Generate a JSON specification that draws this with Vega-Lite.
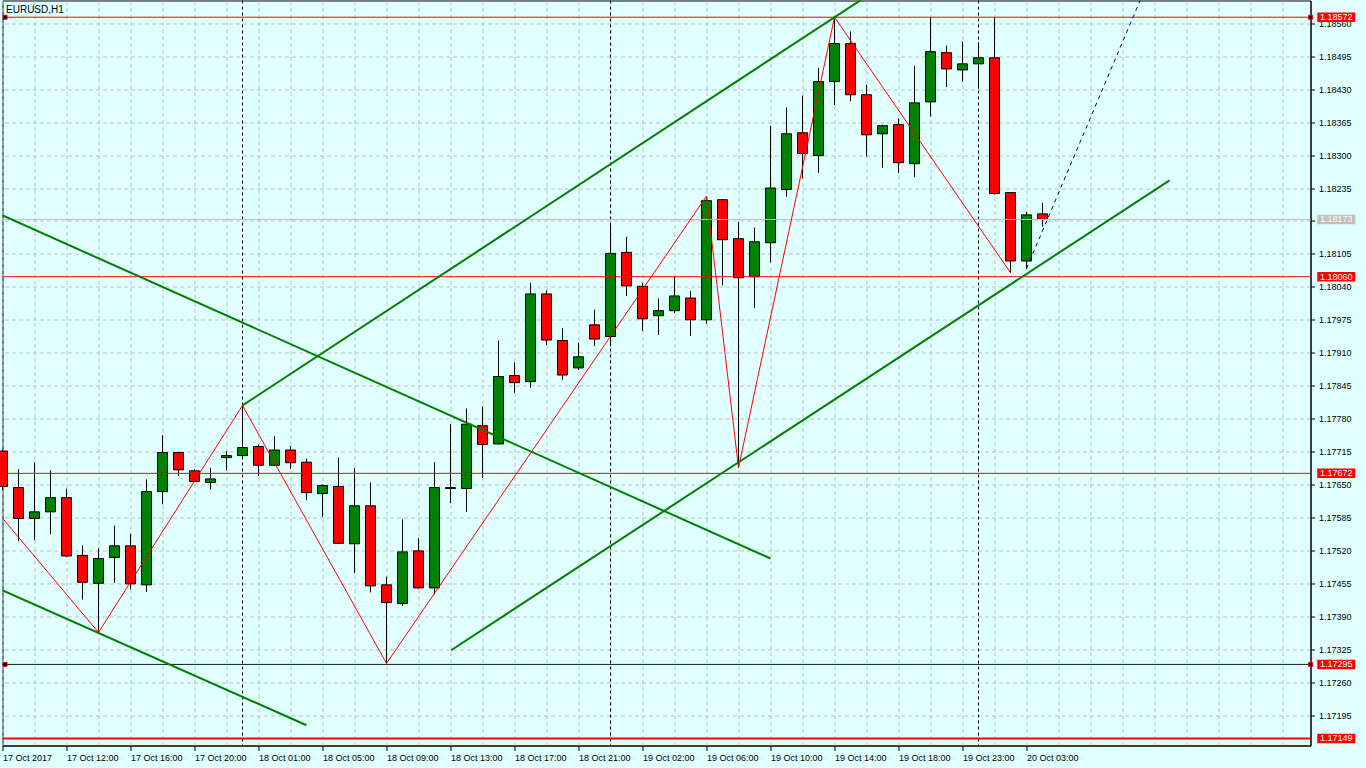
{
  "$schema": "https://vega.github.io/schema/vega-lite/v6.json",
  "width": 1308,
  "height": 745,
  "autosize": {"type": "none"},
  "padding": {"left": 2.5, "top": 0.5, "right": 55.5, "bottom": 22.5},
  "background": "#E0FFFF",
  "config": {"view": {"stroke": "#000000", "strokeWidth": 1, "fill": "#E0FFFF"}, "font": "Liberation Sans", "scale": {"continuousPadding": 0}, "axis": {"labelOverlap": false, "labelFlush": false, "labelBound": false}},
  "datasets": {
    "candles": [
      {"i":0,"open":1.17716,"high":1.17719,"low":1.17640,"close":1.17646},
      {"i":1,"open":1.17644,"high":1.17680,"low":1.17538,"close":1.17583},
      {"i":2,"open":1.17583,"high":1.17694,"low":1.17540,"close":1.17596},
      {"i":3,"open":1.17596,"high":1.17678,"low":1.17552,"close":1.17624},
      {"i":4,"open":1.17624,"high":1.17642,"low":1.17507,"close":1.17509},
      {"i":5,"open":1.17510,"high":1.17530,"low":1.17423,"close":1.17457},
      {"i":6,"open":1.17455,"high":1.17524,"low":1.17358,"close":1.17504},
      {"i":7,"open":1.17506,"high":1.17569,"low":1.17456,"close":1.17529},
      {"i":8,"open":1.17529,"high":1.17553,"low":1.17443,"close":1.17454},
      {"i":9,"open":1.17452,"high":1.17660,"low":1.17438,"close":1.17636},
      {"i":10,"open":1.17636,"high":1.17747,"low":1.17611,"close":1.17713},
      {"i":11,"open":1.17713,"high":1.17715,"low":1.17667,"close":1.17679},
      {"i":12,"open":1.17677,"high":1.17680,"low":1.17655,"close":1.17656},
      {"i":13,"open":1.17654,"high":1.17683,"low":1.17640,"close":1.17661},
      {"i":14,"open":1.17703,"high":1.17716,"low":1.17678,"close":1.17707},
      {"i":15,"open":1.17707,"high":1.17805,"low":1.17703,"close":1.17723},
      {"i":16,"open":1.17725,"high":1.17729,"low":1.17667,"close":1.17688},
      {"i":17,"open":1.17688,"high":1.17745,"low":1.17686,"close":1.17718},
      {"i":18,"open":1.17718,"high":1.17726,"low":1.17681,"close":1.17693},
      {"i":19,"open":1.17694,"high":1.17701,"low":1.17619,"close":1.17634},
      {"i":20,"open":1.17632,"high":1.17650,"low":1.17586,"close":1.17648},
      {"i":21,"open":1.17646,"high":1.17703,"low":1.17533,"close":1.17534},
      {"i":22,"open":1.17533,"high":1.17683,"low":1.17475,"close":1.17608},
      {"i":23,"open":1.17608,"high":1.17654,"low":1.17437,"close":1.17450},
      {"i":24,"open":1.17452,"high":1.17468,"low":1.17297,"close":1.17417},
      {"i":25,"open":1.17415,"high":1.17581,"low":1.17410,"close":1.17517},
      {"i":26,"open":1.17519,"high":1.17544,"low":1.17444,"close":1.17446},
      {"i":27,"open":1.17446,"high":1.17694,"low":1.17433,"close":1.17644},
      {"i":28,"open":1.17642,"high":1.17769,"low":1.17613,"close":1.17644},
      {"i":29,"open":1.17642,"high":1.17800,"low":1.17596,"close":1.17769},
      {"i":30,"open":1.17766,"high":1.17804,"low":1.17663,"close":1.17729},
      {"i":31,"open":1.17730,"high":1.17934,"low":1.17729,"close":1.17863},
      {"i":32,"open":1.17865,"high":1.17891,"low":1.17831,"close":1.17851},
      {"i":33,"open":1.17853,"high":1.18048,"low":1.17841,"close":1.18026},
      {"i":34,"open":1.18026,"high":1.18033,"low":1.17925,"close":1.17935},
      {"i":35,"open":1.17934,"high":1.17958,"low":1.17857,"close":1.17866},
      {"i":36,"open":1.17880,"high":1.17930,"low":1.17876,"close":1.17902},
      {"i":37,"open":1.17965,"high":1.17995,"low":1.17923,"close":1.17937},
      {"i":38,"open":1.17942,"high":1.18164,"low":1.17923,"close":1.18106},
      {"i":39,"open":1.18108,"high":1.18139,"low":1.18022,"close":1.18042},
      {"i":40,"open":1.18041,"high":1.18048,"low":1.17953,"close":1.17977},
      {"i":41,"open":1.17983,"high":1.18017,"low":1.17945,"close":1.17993},
      {"i":42,"open":1.17993,"high":1.18061,"low":1.17988,"close":1.18022},
      {"i":43,"open":1.18018,"high":1.18032,"low":1.17943,"close":1.17975},
      {"i":44,"open":1.17975,"high":1.18219,"low":1.17967,"close":1.18210},
      {"i":45,"open":1.18212,"high":1.18212,"low":1.18043,"close":1.18133},
      {"i":46,"open":1.18135,"high":1.18168,"low":1.17683,"close":1.18058},
      {"i":47,"open":1.18060,"high":1.18157,"low":1.17998,"close":1.18129},
      {"i":48,"open":1.18127,"high":1.18358,"low":1.18088,"close":1.18235},
      {"i":49,"open":1.18232,"high":1.18394,"low":1.18218,"close":1.18342},
      {"i":50,"open":1.18344,"high":1.18417,"low":1.18254,"close":1.18303},
      {"i":51,"open":1.18299,"high":1.18472,"low":1.18265,"close":1.18445},
      {"i":52,"open":1.18445,"high":1.18572,"low":1.18399,"close":1.18520},
      {"i":53,"open":1.18520,"high":1.18544,"low":1.18406,"close":1.18419},
      {"i":54,"open":1.18419,"high":1.18439,"low":1.18297,"close":1.18340},
      {"i":55,"open":1.18342,"high":1.18360,"low":1.18275,"close":1.18358},
      {"i":56,"open":1.18360,"high":1.18372,"low":1.18265,"close":1.18285},
      {"i":57,"open":1.18283,"high":1.18476,"low":1.18257,"close":1.18403},
      {"i":58,"open":1.18405,"high":1.18571,"low":1.18376,"close":1.18504},
      {"i":59,"open":1.18502,"high":1.18516,"low":1.18434,"close":1.18470},
      {"i":60,"open":1.18468,"high":1.18524,"low":1.18445,"close":1.18480},
      {"i":61,"open":1.18480,"high":1.18522,"low":1.18431,"close":1.18492},
      {"i":62,"open":1.18492,"high":1.18571,"low":1.18222,"close":1.18224},
      {"i":63,"open":1.18226,"high":1.18226,"low":1.18068,"close":1.18091},
      {"i":64,"open":1.18091,"high":1.18188,"low":1.18076,"close":1.18182},
      {"i":65,"open":1.18184,"high":1.18206,"low":1.18159,"close":1.18173}
    ],
    "zigzag": [
      {"i":-1,"price":1.17621},
      {"i":6,"price":1.17358},
      {"i":15,"price":1.17806},
      {"i":24,"price":1.17297},
      {"i":44,"price":1.18219},
      {"i":46,"price":1.17683},
      {"i":52,"price":1.18572},
      {"i":63,"price":1.18068}
    ],
    "trendlines": [
      {"line":"A","i":-1,"price":1.18195},
      {"line":"A","i":48,"price":1.17504},
      {"line":"B","i":-1,"price":1.17455},
      {"line":"B","i":19,"price":1.17175},
      {"line":"C","i":15,"price":1.17806},
      {"line":"C","i":55,"price":1.18634},
      {"line":"D","i":28.04,"price":1.17323},
      {"line":"D","i":72.94,"price":1.18250}
    ],
    "projection": [
      {"i":64,"price":1.18076},
      {"i":72,"price":1.18672}
    ],
    "separators": [{"i":15},{"i":38},{"i":61}],
    "levels": [
      {"price":1.18572,"label":"1.18572","kind":"red","anchored":true},
      {"price":1.18060,"label":"1.18060","kind":"red","anchored":false},
      {"price":1.17672,"label":"1.17672","kind":"red","anchored":false},
      {"price":1.17295,"label":"1.17295","kind":"dark","anchored":true},
      {"price":1.17149,"label":"1.17149","kind":"thick","anchored":false},
      {"price":1.18173,"label":"1.18173","kind":"bid","anchored":false}
    ],
    "title": [{"text":"EURUSD,H1"}]
  },
  "layer": [
    {
      "data": {"name": "candles"},
      "mark": {"type": "rule", "color": "#000000", "strokeWidth": 1},
      "encoding": {
        "x": {"field": "i", "type": "quantitative",
          "scale": {"domain": [0, 81.75], "nice": false, "zero": false, "padding": 0},
          "axis": {
            "orient": "bottom", "title": null, "tickCount": 200,
            "values": [0,2,4,6,8,10,12,14,16,18,20,22,24,26,28,30,32,34,36,38,40,42,44,46,48,50,52,54,56,58,60,62,64,66,68,70,72,74,76,78,80],
            "grid": true, "gridColor": "#C0C0C0", "gridDash": [4,3], "gridWidth": 1,
            "domain": true, "domainColor": "#000000",
            "ticks": true, "tickColor": "#000000", "tickSize": 5,
            "tickOpacity": {"condition": {"test": "datum.value % 4 === 0 && datum.value <= 64", "value": 1}, "value": 0},
            "labelExpr": "datum.value % 4 === 0 && datum.value <= 64 ? ['17 Oct 2017','17 Oct 12:00','17 Oct 16:00','17 Oct 20:00','18 Oct 01:00','18 Oct 05:00','18 Oct 09:00','18 Oct 13:00','18 Oct 17:00','18 Oct 21:00','19 Oct 02:00','19 Oct 06:00','19 Oct 10:00','19 Oct 14:00','19 Oct 18:00','19 Oct 23:00','20 Oct 03:00'][datum.value / 4] : ''",
            "labelAlign": "left", "labelBaseline": "top", "labelPadding": 3,
            "labelFont": "Liberation Sans", "labelFontSize": 9, "labelColor": "#000000",
            "labelOverlap": false, "labelFlush": false, "labelBound": false
          }
        },
        "y": {"field": "low", "type": "quantitative",
          "scale": {"domain": [1.17135, 1.18605], "nice": false, "zero": false},
          "axis": {
            "orient": "right", "title": null, "tickCount": 200,
            "values": [1.18560,1.18495,1.18430,1.18365,1.18300,1.18235,1.18170,1.18105,1.18040,1.17975,1.17910,1.17845,1.17780,1.17715,1.17650,1.17585,1.17520,1.17455,1.17390,1.17325,1.17260,1.17195],
            "format": ".5f",
            "grid": true, "gridColor": "#C0C0C0", "gridDash": [4,3], "gridWidth": 1,
            "domain": true, "domainColor": "#000000",
            "ticks": true, "tickColor": "#000000", "tickSize": 4,
            "labelPadding": 4, "labelFont": "Liberation Sans", "labelFontSize": 9, "labelColor": "#000000",
            "labelOverlap": false, "labelFlush": false, "labelBound": false
          }
        },
        "y2": {"field": "high"}
      }
    },
    {
      "data": {"name": "separators"},
      "mark": {"type": "rule", "color": "#000000", "strokeWidth": 1, "strokeDash": [3,3]},
      "encoding": {
        "x": {"field": "i", "type": "quantitative", "scale": {"domain": [0, 81.75], "nice": false, "zero": false, "padding": 0}}
      }
    },
    {
      "data": {"name": "candles"},
      "mark": {"type": "bar", "size": 10, "stroke": "#000000", "strokeWidth": 1},
      "encoding": {
        "x": {"field": "i", "type": "quantitative", "scale": {"domain": [0, 81.75], "nice": false, "zero": false, "padding": 0}},
        "y": {"field": "open", "type": "quantitative", "scale": {"domain": [1.17135, 1.18605], "nice": false, "zero": false}},
        "y2": {"field": "close"},
        "color": {"condition": {"test": "datum.close >= datum.open", "value": "#008000"}, "value": "#FF0000"}
      }
    },
    {
      "data": {"name": "levels"},
      "transform": [{"filter": "datum.kind === 'red'"}],
      "mark": {"type": "rule", "color": "#FF0000", "strokeWidth": 1},
      "encoding": {
        "y": {"field": "price", "type": "quantitative", "scale": {"domain": [1.17135, 1.18605], "nice": false, "zero": false}}
      }
    },
    {
      "data": {"name": "levels"},
      "transform": [{"filter": "datum.kind === 'dark'"}],
      "mark": {"type": "rule", "color": "#1A1A1A", "strokeWidth": 1},
      "encoding": {
        "y": {"field": "price", "type": "quantitative", "scale": {"domain": [1.17135, 1.18605], "nice": false, "zero": false}}
      }
    },
    {
      "data": {"name": "levels"},
      "transform": [{"filter": "datum.kind === 'thick'"}],
      "mark": {"type": "rule", "color": "#FF0000", "strokeWidth": 2},
      "encoding": {
        "y": {"field": "price", "type": "quantitative", "scale": {"domain": [1.17135, 1.18605], "nice": false, "zero": false}}
      }
    },
    {
      "data": {"name": "levels"},
      "transform": [{"filter": "datum.kind === 'bid'"}],
      "mark": {"type": "rule", "color": "#C0C0C0", "strokeWidth": 1},
      "encoding": {
        "y": {"field": "price", "type": "quantitative", "scale": {"domain": [1.17135, 1.18605], "nice": false, "zero": false}}
      }
    },
    {
      "data": {"name": "trendlines"},
      "mark": {"type": "line", "color": "#008000", "strokeWidth": 2, "clip": true},
      "encoding": {
        "x": {"field": "i", "type": "quantitative", "scale": {"domain": [0, 81.75], "nice": false, "zero": false, "padding": 0}},
        "y": {"field": "price", "type": "quantitative", "scale": {"domain": [1.17135, 1.18605], "nice": false, "zero": false}},
        "detail": {"field": "line", "type": "nominal"}
      }
    },
    {
      "data": {"name": "zigzag"},
      "mark": {"type": "line", "color": "#FF0000", "strokeWidth": 1, "clip": true},
      "encoding": {
        "x": {"field": "i", "type": "quantitative", "scale": {"domain": [0, 81.75], "nice": false, "zero": false, "padding": 0}},
        "y": {"field": "price", "type": "quantitative", "scale": {"domain": [1.17135, 1.18605], "nice": false, "zero": false}}
      }
    },
    {
      "data": {"name": "projection"},
      "mark": {"type": "line", "color": "#000080", "strokeWidth": 1, "strokeDash": [4,4], "clip": true},
      "encoding": {
        "x": {"field": "i", "type": "quantitative", "scale": {"domain": [0, 81.75], "nice": false, "zero": false, "padding": 0}},
        "y": {"field": "price", "type": "quantitative", "scale": {"domain": [1.17135, 1.18605], "nice": false, "zero": false}}
      }
    },
    {
      "data": {"name": "levels"},
      "transform": [{"filter": "datum.anchored"}],
      "mark": {"type": "point", "shape": "square", "size": 16, "filled": true, "fill": "#000000", "stroke": "#FF0000", "strokeWidth": 1, "opacity": 1},
      "encoding": {
        "x": {"datum": 0.16, "type": "quantitative", "scale": {"domain": [0, 81.75], "nice": false, "zero": false, "padding": 0}},
        "y": {"field": "price", "type": "quantitative", "scale": {"domain": [1.17135, 1.18605], "nice": false, "zero": false}}
      }
    },
    {
      "data": {"name": "levels"},
      "transform": [{"filter": "datum.anchored"}],
      "mark": {"type": "point", "shape": "square", "size": 16, "filled": true, "fill": "#000000", "stroke": "#FF0000", "strokeWidth": 1, "opacity": 1},
      "encoding": {
        "x": {"datum": 81.75, "type": "quantitative", "scale": {"domain": [0, 81.75], "nice": false, "zero": false, "padding": 0}},
        "y": {"field": "price", "type": "quantitative", "scale": {"domain": [1.17135, 1.18605], "nice": false, "zero": false}}
      }
    },
    {
      "data": {"name": "levels"},
      "mark": {"type": "point", "shape": "M-1,-0.25H1V0.25H-1Z", "size": 1444, "filled": true, "opacity": 1, "strokeWidth": 0},
      "encoding": {
        "x": {"datum": 83.36, "type": "quantitative", "scale": {"domain": [0, 81.75], "nice": false, "zero": false, "padding": 0}},
        "y": {"field": "price", "type": "quantitative", "scale": {"domain": [1.17135, 1.18605], "nice": false, "zero": false}},
        "color": {"condition": {"test": "datum.kind === 'bid'", "value": "#C0C0C0"}, "value": "#FF0000"}
      }
    },
    {
      "data": {"name": "levels"},
      "mark": {"type": "text", "color": "#FFFFFF", "font": "Liberation Sans", "fontSize": 9, "align": "center", "baseline": "middle"},
      "encoding": {
        "x": {"datum": 83.36, "type": "quantitative", "scale": {"domain": [0, 81.75], "nice": false, "zero": false, "padding": 0}},
        "y": {"field": "price", "type": "quantitative", "scale": {"domain": [1.17135, 1.18605], "nice": false, "zero": false}},
        "text": {"field": "label"}
      }
    },
    {
      "data": {"name": "title"},
      "mark": {"type": "text", "color": "#000000", "font": "Liberation Sans", "fontSize": 10, "align": "left", "baseline": "middle"},
      "encoding": {
        "x": {"datum": 0.22, "type": "quantitative", "scale": {"domain": [0, 81.75], "nice": false, "zero": false, "padding": 0}},
        "y": {"datum": 1.18587, "type": "quantitative", "scale": {"domain": [1.17135, 1.18605], "nice": false, "zero": false}},
        "text": {"field": "text"}
      }
    }
  ]
}
